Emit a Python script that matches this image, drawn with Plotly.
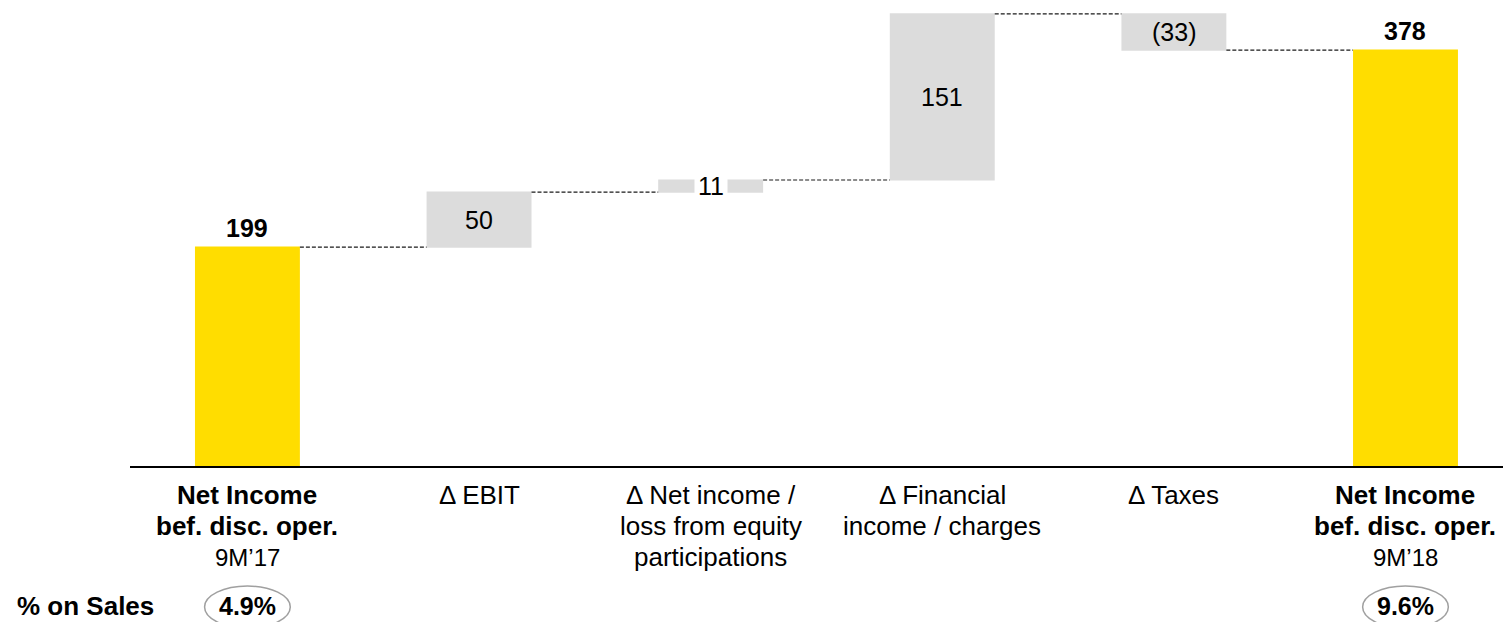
import plotly.graph_objects as go

categories = [
    "<b>Net Income</b><br><b>bef. disc. oper.</b><br>9M\u201917",
    "\u0394 EBIT",
    "\u0394 Net income /<br>loss from equity<br>participations",
    "\u0394 Financial<br>income / charges",
    "\u0394 Taxes",
    "<b>Net Income</b><br><b>bef. disc. oper.</b><br>9M\u201918",
]
values = [199, 50, 11, 151, -33, 378]
measures = ["absolute", "relative", "relative", "relative", "relative", "total"]
value_labels = ["199", "50", "11", "151", "(33)", "378"]
pct_on_sales = {0: "4.9%", 5: "9.6%"}

YELLOW = "#FFDD00"
GREY = "#DCDCDC"
FONT = "Liberation Sans, Arial, sans-serif"
FS_CAT = 26
FS_VAL = 25

PLOT_H = 466.0


def py2paper(py):
    return (PLOT_H - py) / PLOT_H


fig = go.Figure(go.Waterfall(
    x=list(range(len(values))),
    y=values,
    measure=measures,
    width=[0.453] * len(values),
    totals=dict(marker=dict(color=YELLOW, line=dict(width=0))),
    increasing=dict(marker=dict(color=GREY, line=dict(width=0))),
    decreasing=dict(marker=dict(color=GREY, line=dict(width=0))),
    connector=dict(mode="between", line=dict(color="#1a1a1a", width=1.2, dash="4px,2px")),
    textinfo="none",
    hoverinfo="skip",
))

annotations = []
level = 0
for i, (v, m, lab) in enumerate(zip(values, measures, value_labels)):
    if m == "absolute":
        lo, hi = 0, v
        level = v
    elif m == "total":
        lo, hi = 0, level
    else:
        lo, hi = sorted([level, level + v])
        level += v
    if m in ("absolute", "total"):
        annotations.append(dict(x=i, y=hi, text="<b>%s</b>" % lab, showarrow=False,
                                yanchor="bottom", yshift=3, xref="x", yref="y",
                                font=dict(size=FS_VAL, color="black", family=FONT)))
    else:
        small = (hi - lo) < 20
        annotations.append(dict(x=i, y=(lo + hi) / 2, text=lab, showarrow=False,
                                yanchor="middle", xref="x", yref="y",
                                bgcolor="white" if small else None,
                                borderpad=3 if small else 1,
                                font=dict(size=FS_VAL, color="black", family=FONT)))

# category labels, one annotation per line
line_py = [495, 526, 557]
for i, cat in enumerate(categories):
    for j, line in enumerate(cat.split("<br>")):
        size = 24 if line.startswith("9M") else FS_CAT
        annotations.append(dict(x=i, y=py2paper(line_py[j]), xref="x", yref="paper",
                                text=line, showarrow=False, yanchor="middle",
                                font=dict(size=size, color="black", family=FONT)))

shapes = []
for i, txt in pct_on_sales.items():
    annotations.append(dict(x=i, y=py2paper(606), xref="x", yref="paper", text="<b>%s</b>" % txt,
                            showarrow=False, yanchor="middle",
                            font=dict(size=FS_VAL, color="black", family=FONT)))
    shapes.append(dict(type="circle", xref="x", yref="paper",
                       x0=i - 0.185, x1=i + 0.185, y0=py2paper(628), y1=py2paper(586),
                       line=dict(color="#A0A0A0", width=1.5)))

annotations.append(dict(x=-115 / 1373, y=py2paper(606), xref="paper", yref="paper",
                        text="<b>% on Sales</b>", showarrow=False, xanchor="left", yanchor="middle",
                        font=dict(size=26, color="black", family=FONT)))

fig.update_layout(
    width=1503, height=622,
    margin=dict(l=130, r=0, t=0, b=156),
    paper_bgcolor="white", plot_bgcolor="white",
    showlegend=False,
    annotations=annotations,
    shapes=shapes,
    xaxis=dict(range=[-0.507, 5.421], showgrid=False, zeroline=False,
               showline=True, linecolor="black", linewidth=1.5, ticks="",
               showticklabels=False, fixedrange=True),
    yaxis=dict(range=[0, 423.6], visible=False, showgrid=False, zeroline=False, fixedrange=True),
)

fig.write_html("out.html")
